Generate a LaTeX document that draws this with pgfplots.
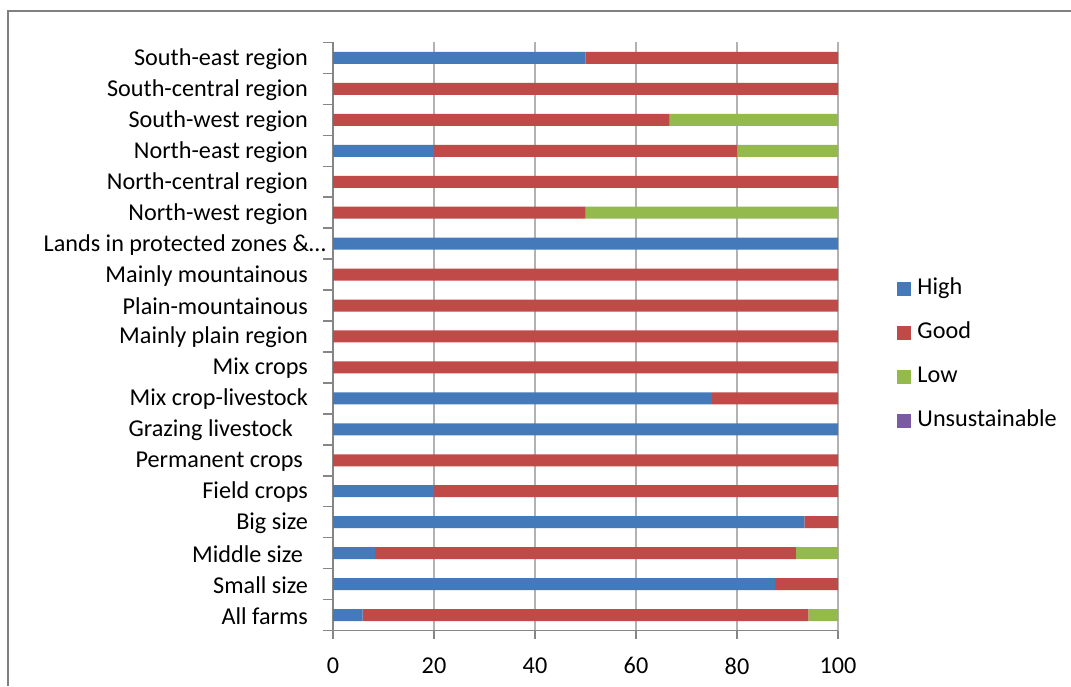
\documentclass[border=0pt]{standalone}
\usepackage{fontspec}
\setmainfont{Carlito}
\usepackage{pgfplots}
\usepackage{pgfplotstable}
\pgfplotsset{compat=1.18}
\definecolor{cHigh}{RGB}{68,121,186}
\definecolor{cGood}{RGB}{192,74,72}
\definecolor{cLow}{RGB}{148,186,78}
\definecolor{cUns}{RGB}{122,90,160}
\definecolor{axisgray}{RGB}{134,134,134}
\definecolor{gridgray}{RGB}{178,178,178}
\definecolor{framegray}{RGB}{128,128,128}

\pgfplotstableread{
y High Good Low Uns
0 5.88 88.24 5.88 0
1 87.5 12.5 0 0
2 8.33 83.34 8.33 0
3 93.33 6.67 0 0
4 20 80 0 0
5 0 100 0 0
6 100 0 0 0
7 75 25 0 0
8 0 100 0 0
9 0 100 0 0
10 0 100 0 0
11 0 100 0 0
12 100 0 0 0
13 0 50 50 0
14 0 100 0 0
15 20 60 20 0
16 0 66.67 33.33 0
17 0 100 0 0
18 50 50 0 0
}\datatable

\begin{document}
\begin{tikzpicture}
\useasboundingbox (0,0) rectangle (535.5pt,343pt);
\draw[framegray, line width=0.8pt] (4pt,0) -- (4pt,337.5pt) -- (535.5pt,337.5pt);
\begin{axis}[
  at={(166.5pt,27.75pt)}, anchor=south west,
  scale only axis, width=252.5pt, height=294pt,
  xbar stacked, bar width=6pt,
  xmin=0, xmax=100, ymin=-0.5, ymax=18.5,
  xtick={0,20,...,100},
  ytick={0,...,18},
  minor ytick={-0.5,0.5,...,18.5},
  yticklabels={All farms, Small size, {Middle size\hspace*{2.5pt}}, Big size, Field crops, {Permanent crops\hspace*{2.5pt}}, {Grazing livestock\hspace*{7.5pt}}, Mix crop-livestock, Mix crops, Mainly plain region, Plain-mountainous, Mainly mountainous, {Lands in protected zones \&…\hspace*{-9pt}}, North-west region, North-central region, North-east region, South-west region, South-central region, South-east region},
  axis x line*=bottom, axis y line*=left,
  axis line style={draw=axisgray, line width=0.75pt},
  tick align=outside,
  major tick length=4pt, minor tick length=5pt,
  tick style={draw=axisgray, line width=0.75pt},
  major y tick style={draw=none},
  xmajorgrids=true,
  grid style={draw=gridgray, line width=0.75pt},
  /pgf/number format/assume math mode=true,
  tick label style={font=\fontsize{12.1pt}{14pt}\selectfont, text=black},
  yticklabel style={xshift=-5pt, yshift=-0.5pt},
  xticklabel style={yshift=-6pt},
  legend cell align=left,
  legend style={at={(1.117,0.600)}, anchor=north west, draw=none, fill=none,
    inner sep=0pt, row sep=11.6pt, column sep=3pt,
    font=\fontsize{12.1pt}{14pt}\selectfont,
    nodes={inner sep=0pt, text height=8pt, text depth=2.5pt}},
  legend image code/.code={\fill[#1] (0pt,-3.5pt) rectangle (7pt,3.5pt);},
]
\addplot[draw=none, fill=cHigh] table[x=High, y=y] {\datatable};
\addplot[draw=none, fill=cGood] table[x=Good, y=y] {\datatable};
\addplot[draw=none, fill=cLow] table[x=Low, y=y] {\datatable};
\addplot[draw=none, fill=cUns] table[x=Uns, y=y] {\datatable};
\legend{High, Good, Low, Unsustainable}
\end{axis}
\end{tikzpicture}
\end{document}
